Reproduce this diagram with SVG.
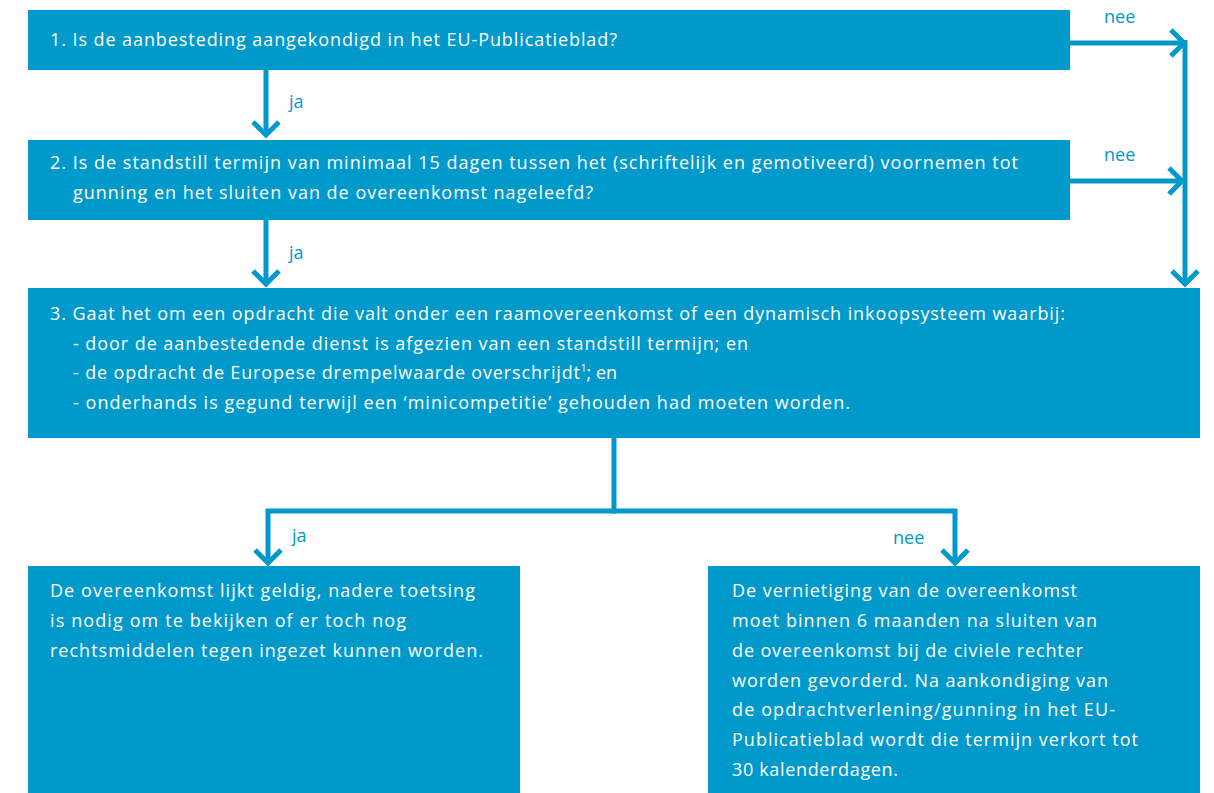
<svg xmlns="http://www.w3.org/2000/svg" width="1214" height="793" viewBox="0 0 1214 793">
<defs>
<marker id="chev" markerUnits="userSpaceOnUse" markerWidth="40" markerHeight="40" viewBox="-20 -20 40 40" refX="0" refY="0" orient="auto" overflow="visible">
<path d="M-13,-13 L0,0 L-13,13" fill="none" stroke="#0099cc" stroke-width="5"/>
</marker>
</defs>
<style>
.box{fill:#0099cc}
.t{font-family:"Open Sans","Noto Sans","DejaVu Sans",sans-serif;font-size:18px;fill:#ffffff}
.lbl{font-family:"Open Sans","Noto Sans","DejaVu Sans",sans-serif;font-size:18px;fill:#0099cc}
.c{fill:none;stroke:#0099cc;stroke-width:5}
</style>
<rect width="1214" height="793" fill="#ffffff"/>
<g id="connectors">
<path class="c" d="M266,70 V135" marker-end="url(#chev)"/>
<path class="c" d="M266,220 V284" marker-end="url(#chev)"/>
<path class="c" d="M1070,43 H1184" marker-end="url(#chev)"/>
<path class="c" d="M1070,181 H1182" marker-end="url(#chev)"/>
<path class="c" d="M1185,40 V284" marker-end="url(#chev)"/>
<path class="c" d="M614,438 V511 H268 V563" marker-end="url(#chev)"/>
<path class="c" d="M612,511 H955 V563" marker-end="url(#chev)"/>
<text class="lbl" x="289" y="108">ja</text>
<text class="lbl" x="289" y="259">ja</text>
<text class="lbl" x="1104" y="23">nee</text>
<text class="lbl" x="1104" y="161">nee</text>
<text class="lbl" x="292" y="542">ja</text>
<text class="lbl" x="893" y="544">nee</text>
</g>
<g id="node1">
<rect class="box" x="28" y="10" width="1042" height="60"/>
<text class="t" x="50" y="46" textLength="567" lengthAdjust="spacing">1. Is de aanbesteding aangekondigd in het EU-Publicatieblad?</text>
</g>
<g id="node2">
<rect class="box" x="28" y="140" width="1042" height="80"/>
<text class="t" x="50" y="169" textLength="968" lengthAdjust="spacing">2. Is de standstill termijn van minimaal 15 dagen tussen het (schriftelijk en gemotiveerd) voornemen tot</text>
<text class="t" x="73" y="199" textLength="520" lengthAdjust="spacing">gunning en het sluiten van de overeenkomst nageleefd?</text>
</g>
<g id="node3">
<rect class="box" x="28" y="288" width="1172" height="150"/>
<text class="t" x="50" y="320" textLength="1015" lengthAdjust="spacing">3. Gaat het om een opdracht die valt onder een raamovereenkomst of een dynamisch inkoopsysteem waarbij:</text>
<text class="t" x="73" y="350" textLength="675" lengthAdjust="spacing">- door de aanbestedende dienst is afgezien van een standstill termijn; en</text>
<text class="t" x="73" y="379"><tspan textLength="507" lengthAdjust="spacing">- de opdracht de Europese drempelwaarde overschrijdt</tspan><tspan font-size="10" dy="-7">1</tspan><tspan dy="7">; en</tspan></text>
<text class="t" x="73" y="409" textLength="777" lengthAdjust="spacing">- onderhands is gegund terwijl een ‘minicompetitie’ gehouden had moeten worden.</text>
</g>
<g id="node4">
<rect class="box" x="28" y="566" width="492" height="227"/>
<text class="t" x="50" y="597" textLength="425" lengthAdjust="spacing">De overeenkomst lijkt geldig, nadere toetsing</text>
<text class="t" x="50" y="627" textLength="356" lengthAdjust="spacing">is nodig om te bekijken of er toch nog</text>
<text class="t" x="50" y="657" textLength="433" lengthAdjust="spacing">rechtsmiddelen tegen ingezet kunnen worden.</text>
</g>
<g id="node5">
<rect class="box" x="708" y="566" width="492" height="227"/>
<text class="t" x="732" y="597" textLength="345" lengthAdjust="spacing">De vernietiging van de overeenkomst</text>
<text class="t" x="732" y="627" textLength="365" lengthAdjust="spacing">moet binnen 6 maanden na sluiten van</text>
<text class="t" x="732" y="657" textLength="351" lengthAdjust="spacing">de overeenkomst bij de civiele rechter</text>
<text class="t" x="732" y="687" textLength="376" lengthAdjust="spacing">worden gevorderd. Na aankondiging van</text>
<text class="t" x="732" y="716" textLength="383" lengthAdjust="spacing">de opdrachtverlening/gunning in het EU-</text>
<text class="t" x="732" y="746" textLength="406" lengthAdjust="spacing">Publicatieblad wordt die termijn verkort tot</text>
<text class="t" x="732" y="776" textLength="166" lengthAdjust="spacing">30 kalenderdagen.</text>
</g>
</svg>
